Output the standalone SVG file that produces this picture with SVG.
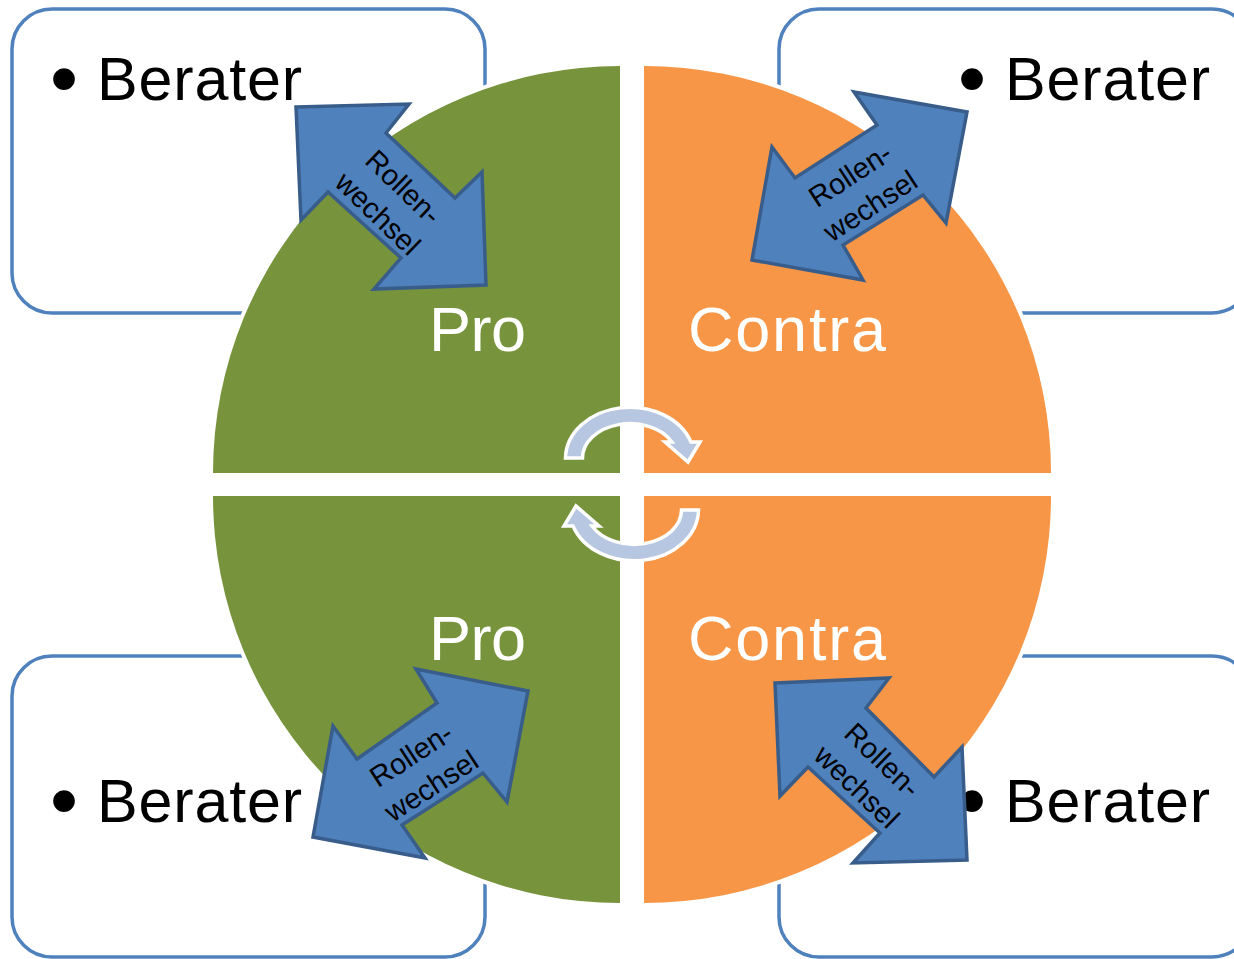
<svg xmlns="http://www.w3.org/2000/svg" width="1234" height="959" viewBox="0 0 1234 959">
<defs>
<style>
.box{fill:#ffffff;stroke:#4F81BD;stroke-width:3.5}
.lbl{font-family:"Liberation Sans",Arial,sans-serif;font-size:61px;fill:#000000}
.bul{font-family:"Liberation Sans",Arial,sans-serif;font-size:80px;fill:#000000;text-anchor:middle}
.quad{stroke:#ffffff;stroke-width:8;paint-order:stroke}
.green{fill:#77933C}
.orange{fill:#F79646}
.side{font-family:"Liberation Sans",Arial,sans-serif;font-size:63px;fill:#ffffff}
.arrow{fill:#4F81BD;stroke:#385D8A;stroke-width:3.5;stroke-linejoin:miter}
.atxt{font-family:"Liberation Sans",Arial,sans-serif;font-size:29px;fill:#000000;text-anchor:middle}
.cyc{fill:#B7C7E1;stroke:#ffffff;stroke-width:3.5;stroke-linejoin:miter}
</style>
</defs>
<rect width="1234" height="959" fill="#ffffff"/>
<g id="box-tl"><rect class="box" x="12" y="9" width="473" height="304" rx="40"/>
<text class="bul" x="64" y="106">•</text><text class="lbl" x="97" y="100" textLength="205">Berater</text></g>
<g id="box-tr"><rect class="box" x="779" y="9" width="473" height="304" rx="40"/>
<text class="bul" x="972" y="106">•</text><text class="lbl" x="1005" y="100" textLength="205">Berater</text></g>
<g id="box-bl"><rect class="box" x="12" y="656" width="473" height="301" rx="40"/>
<text class="bul" x="64" y="828">•</text><text class="lbl" x="97" y="822" textLength="205">Berater</text></g>
<g id="box-br"><rect class="box" x="779" y="656" width="473" height="301" rx="40"/>
<text class="bul" x="972" y="828">•</text><text class="lbl" x="1005" y="822" textLength="205">Berater</text></g>
<g id="quad-tl"><path class="quad green" d="M620,473 L213,473 A407,407 0 0 1 620,66 Z"/>
<text class="side" x="429" y="351" textLength="97">Pro</text></g>
<g id="quad-tr"><path class="quad orange" d="M644,473 L644,66 A407,407 0 0 1 1051,473 Z"/>
<text class="side" x="688" y="351" textLength="198">Contra</text></g>
<g id="quad-bl"><path class="quad green" d="M620,496 L620,903 A407,407 0 0 1 213,496 Z"/>
<text class="side" x="429" y="660" textLength="97">Pro</text></g>
<g id="quad-br"><path class="quad orange" d="M644,496 L1051,496 A407,407 0 0 1 644,903 Z"/>
<text class="side" x="688" y="660" textLength="198">Contra</text></g>
<g id="cycle">
<path class="cyc" d="M582.5,458 L565.5,458 A64.5,51.5 0 0 1 691,442 L700,442 L688,462 L665,442 L672,442 A47.5,34.5 0 0 0 582.5,458 Z"/>
<path class="cyc" transform="rotate(180 632 484)" d="M582.5,458 L565.5,458 A64.5,51.5 0 0 1 691,442 L700,442 L688,462 L665,442 L672,442 A47.5,34.5 0 0 0 582.5,458 Z"/>
</g>
<g id="connectors">
<g id="swap-tl"><polygon class="arrow" points="296,107 409,104 386,133 455,198 482,172 486,285 374,289 401,258 328,192 301,220"/>
<g transform="translate(391,200) rotate(44)"><text class="atxt" x="0" y="-8">Rollen-</text><text class="atxt" x="0" y="29">wechsel</text></g></g>
<g id="swap-tr"><polygon class="arrow" points="854,92 967,112 946,223 923,195 843,245 863,280 752,260 772,147 795,178 877,125"/>
<g transform="translate(860,190) rotate(-33)"><text class="atxt" x="0" y="-8">Rollen-</text><text class="atxt" x="0" y="29">wechsel</text></g></g>
<g id="swap-bl"><polygon class="arrow" points="416,669 528,691 507,802 483,773 402,825 425,858 313,837 333,726 357,759 437,703"/>
<g transform="translate(421,770) rotate(-33)"><text class="atxt" x="0" y="-8">Rollen-</text><text class="atxt" x="0" y="29">wechsel</text></g></g>
<g id="swap-br"><polygon class="arrow" points="775,683 889,678 866,708 934,777 962,747 967,860 853,863 880,833 808,767 780,796"/>
<g transform="translate(870,773) rotate(44)"><text class="atxt" x="0" y="-8">Rollen-</text><text class="atxt" x="0" y="29">wechsel</text></g></g>
</g>
</svg>
